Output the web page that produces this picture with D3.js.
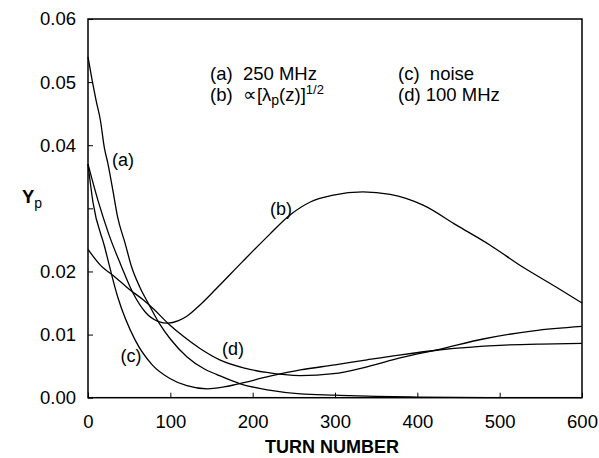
<!DOCTYPE html>
<html><head><meta charset="utf-8">
<script src="https://cdn.jsdelivr.net/npm/d3@7"></script>
<style>body{margin:0;background:#fff;} text{font-family:"Liberation Sans",Arial,sans-serif;white-space:pre;}</style>
</head><body>
<svg id="c" width="599" height="458"></svg>
<script>
const xTicks = [0,100,200,300,400,500,600];
const yTicks = [0,0.01,0.02,0.03,0.04,0.05,0.06];
const yTickLabels = ["0.00","0.01","0.02","","0.04","0.05","0.06"];

const aX = [0,5,10,15,20,24,30,36,45,53,63,73,87,100,120,142,156,185,220,258,300,350,400,500,600];
const aY = [0.054,0.0503,0.047,0.044,0.0395,0.0372,0.033,0.0286,0.0245,0.0207,0.0175,0.015,0.0117,0.0093,0.0065,0.0045,0.0037,0.0022,0.0012,0.0006,0.0004,0.0002,0.0001,0.0,0.0];

const bX = [0,12,25,40,55,70,85,97,110,120,136,156,188,220,245,270,298,334,367,407,448,488,528,569,600];
const bY = [0.037,0.0313,0.026,0.021,0.0165,0.0135,0.0121,0.0118,0.0122,0.0129,0.0147,0.0173,0.0216,0.0258,0.0289,0.031,0.0321,0.0326,0.0322,0.0305,0.0273,0.0242,0.0207,0.0175,0.015];

const cX = [0,6,20,36,57,78,100,120,145,165,180,221,258,300,339,380,428,500,550,600];
const cY = [0.037,0.031,0.024,0.016,0.0092,0.0052,0.003,0.0019,0.0014,0.0017,0.0021,0.0034,0.0044,0.0052,0.006,0.0068,0.0076,0.0083,0.0085,0.0086];

const dX = [0,15,33,50,67,80,97,115,136,160,190,217,258,298,339,379,428,480,541,600];
const dY = [0.0235,0.021,0.0191,0.0172,0.0155,0.014,0.0118,0.0098,0.0078,0.006,0.0047,0.004,0.0035,0.0038,0.0049,0.0063,0.0077,0.0093,0.0106,0.0113];

const svg = d3.select("#c");
const x = d3.scaleLinear().domain([0,600]).range([88,582]);
const y = d3.scaleLinear().domain([0,0.06]).range([397.7,19]);

svg.append("rect").attr("x",88).attr("y",19).attr("width",494).attr("height",378.7)
  .attr("fill","none").attr("stroke","#000").attr("stroke-width",1.5);

const gy = svg.append("g").attr("transform","translate(88,0)")
  .call(d3.axisLeft(y).tickValues(yTicks).tickFormat((d,i)=>yTickLabels[i]).tickSizeInner(-5).tickSizeOuter(0).tickPadding(12));
gy.select(".domain").remove();
gy.selectAll("text").attr("font-size",18.5).attr("font-family","Liberation Sans, Arial, sans-serif");
const gx = svg.append("g").attr("transform","translate(0,397.7)")
  .call(d3.axisBottom(x).tickValues(xTicks).tickSizeInner(-5).tickSizeOuter(0).tickPadding(17));
gx.select(".domain").remove();
gx.selectAll("text").attr("font-size",18.5).attr("font-family","Liberation Sans, Arial, sans-serif");
svg.selectAll(".tick line").attr("stroke","#000");

const line = d3.line().x(d=>x(d[0])).y(d=>y(d[1])).curve(d3.curveMonotoneX);
[[aX,aY],[bX,bY],[cX,cY],[dX,dY]].forEach(([xs,ys])=>{
  svg.append("path").attr("d",line(xs.map((v,i)=>[v,ys[i]])))
    .attr("fill","none").attr("stroke","#000").attr("stroke-width",1.3);
});

const lab = [["(a)",123,166],["(b)",281,215],["(c)",131,362],["(d)",233,355]];
lab.forEach(([t,px,py])=>svg.append("text").attr("x",px).attr("y",py).attr("text-anchor","middle").attr("font-size",18).text(t));

const LF = 18.5;
svg.append("text").attr("x",210).attr("y",80).attr("font-size",LF).text("(a)  250 MHz");
const tb = svg.append("text").attr("x",210).attr("y",101).attr("font-size",LF);
tb.append("tspan").text("(b)  \u221D[\u03BB");
tb.append("tspan").attr("font-size",14).attr("dy",4).text("p");
tb.append("tspan").attr("dy",-4).text("(z)]");
tb.append("tspan").attr("font-size",13).attr("dy",-7).text("1/2");
svg.append("text").attr("x",398).attr("y",80).attr("font-size",LF).text("(c)  noise");
svg.append("text").attr("x",398).attr("y",101).attr("font-size",LF).text("(d) 100 MHz");

svg.append("text").attr("x",332).attr("y",453).attr("text-anchor","middle").attr("font-size",18).attr("font-weight","bold").text("TURN NUMBER");
const yl = svg.append("text").attr("x",22).attr("y",203).attr("font-size",18.5);
yl.append("tspan").attr("font-weight","bold").text("Y");
yl.append("tspan").attr("font-size",14).attr("dy",5).text("p");
</script>
</body></html>
